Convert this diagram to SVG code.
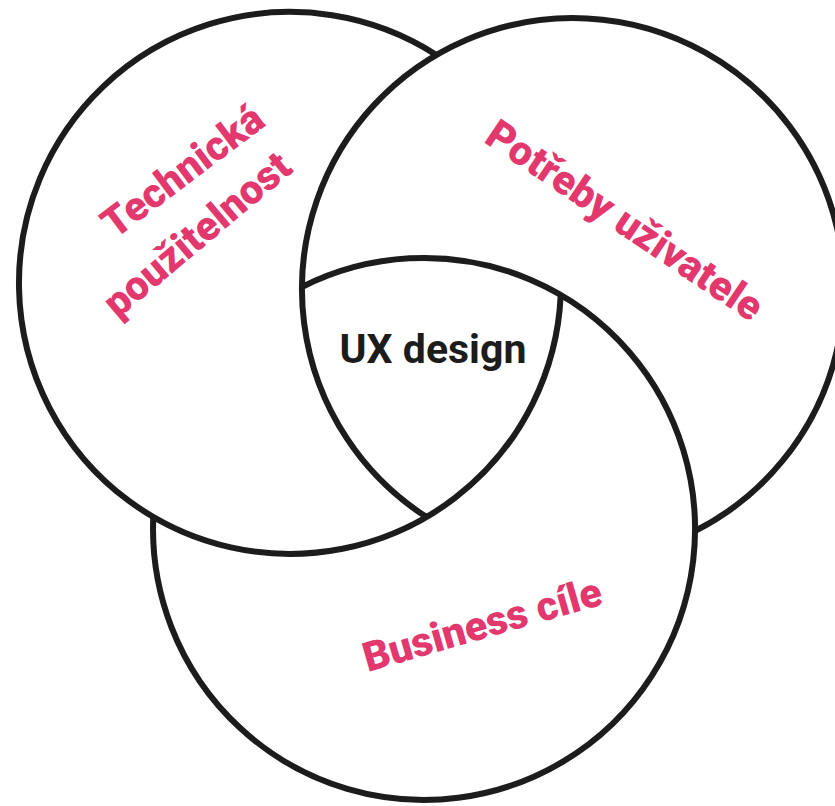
<svg xmlns="http://www.w3.org/2000/svg" width="835" height="806" viewBox="0 0 835 806">
  <style>
    .ring { fill: none; stroke: #1c1c1c; stroke-width: 6; stroke-linecap: butt; }
    .label { fill: #e2386e; font-family: Roboto, "Liberation Sans", Arial, sans-serif; font-weight: 900; font-size: 41px; text-anchor: middle; }
    .center { fill: #1c1c1c; font-family: Roboto, "Liberation Sans", sans-serif; font-weight: bold; font-size: 41px; text-anchor: middle; }
  </style>
  <rect width="835" height="806" fill="#ffffff"/>
  <g id="technicka">
    <path class="ring" d="M 560.7 295 A 271 271 0 1 1 436.4 54.9"/>
    <text class="label" transform="translate(191 182) rotate(-37)">Technická</text>
    <text class="label" transform="translate(206 245) rotate(-40)">použitelnost</text>
  </g>
  <g id="potreby">
    <path class="ring" d="M 426.6 517.1 A 271 271 0 1 1 695 531"/>
    <text class="label" transform="translate(617 232) rotate(34)">Potřeby uživatele</text>
  </g>
  <g id="business">
    <path class="ring" d="M 302 287 A 271 271 0 1 1 153.3 517"/>
    <text class="label" transform="translate(486 638) rotate(-16)">Business cíle</text>
  </g>
  <g id="ux">
    <text class="center" x="433" y="363">UX design</text>
  </g>
  <g id="connectors"/>
</svg>
